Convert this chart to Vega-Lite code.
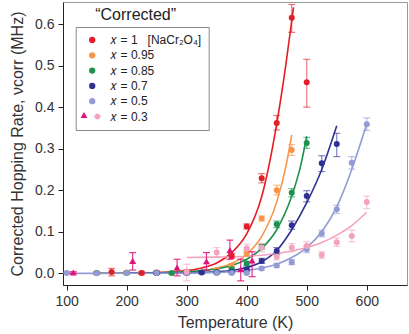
{
  "$schema": "https://vega.github.io/schema/vega-lite/v6.json",
  "autosize": "none",
  "width": 344,
  "height": 283,
  "padding": {"left": 63, "top": 2, "right": 2, "bottom": 49},
  "config": {
    "font": "Liberation Sans",
    "view": {"stroke": "#9a9a9a", "strokeWidth": 1},
    "axis": {"grid": false, "domainColor": "#222", "tickColor": "#222", "labelColor": "#333", "titleColor": "#333", "labelFontSize": 14, "titleFontSize": 16, "titleFontWeight": "normal", "tickSize": 5}
  },
  "datasets": {
    "pts": [
      {"series": "𝑥 = 1  [NaCr₂O₄]", "T": 175, "v": 0.003, "lo": -0.006, "hi": 0.012},
      {"series": "𝑥 = 1  [NaCr₂O₄]", "T": 225, "v": 0.001, "lo": -0.003, "hi": 0.005},
      {"series": "𝑥 = 1  [NaCr₂O₄]", "T": 250, "v": 0.002, "lo": -0.002, "hi": 0.006},
      {"series": "𝑥 = 1  [NaCr₂O₄]", "T": 300, "v": 0.004, "lo": 0.0, "hi": 0.008},
      {"series": "𝑥 = 1  [NaCr₂O₄]", "T": 375, "v": 0.042, "lo": 0.036, "hi": 0.048},
      {"series": "𝑥 = 1  [NaCr₂O₄]", "T": 400, "v": 0.113, "lo": 0.107, "hi": 0.119},
      {"series": "𝑥 = 1  [NaCr₂O₄]", "T": 425, "v": 0.229, "lo": 0.218, "hi": 0.24},
      {"series": "𝑥 = 1  [NaCr₂O₄]", "T": 450, "v": 0.362, "lo": 0.345, "hi": 0.38},
      {"series": "𝑥 = 1  [NaCr₂O₄]", "T": 475, "v": 0.615, "lo": 0.58, "hi": 0.647},
      {"series": "𝑥 = 1  [NaCr₂O₄]", "T": 500, "v": 0.46, "lo": 0.4, "hi": 0.515},
      {"series": "𝑥 = 0.95", "T": 150, "v": 0.001, "lo": -0.002, "hi": 0.004},
      {"series": "𝑥 = 0.95", "T": 200, "v": 0.002, "lo": -0.001, "hi": 0.005},
      {"series": "𝑥 = 0.95", "T": 250, "v": 0.002, "lo": -0.001, "hi": 0.005},
      {"series": "𝑥 = 0.95", "T": 300, "v": 0.004, "lo": 0.001, "hi": 0.007},
      {"series": "𝑥 = 0.95", "T": 350, "v": 0.008, "lo": 0.004, "hi": 0.012},
      {"series": "𝑥 = 0.95", "T": 375, "v": 0.018, "lo": 0.012, "hi": 0.024},
      {"series": "𝑥 = 0.95", "T": 400, "v": 0.048, "lo": 0.041, "hi": 0.055},
      {"series": "𝑥 = 0.95", "T": 425, "v": 0.132, "lo": 0.126, "hi": 0.138},
      {"series": "𝑥 = 0.95", "T": 450, "v": 0.2, "lo": 0.189, "hi": 0.212},
      {"series": "𝑥 = 0.95", "T": 475, "v": 0.297, "lo": 0.284, "hi": 0.31},
      {"series": "𝑥 = 0.85", "T": 150, "v": 0.001, "lo": -0.002, "hi": 0.004},
      {"series": "𝑥 = 0.85", "T": 200, "v": 0.001, "lo": -0.002, "hi": 0.004},
      {"series": "𝑥 = 0.85", "T": 250, "v": 0.001, "lo": -0.002, "hi": 0.004},
      {"series": "𝑥 = 0.85", "T": 275, "v": 0.001, "lo": -0.002, "hi": 0.004},
      {"series": "𝑥 = 0.85", "T": 300, "v": 0.002, "lo": -0.001, "hi": 0.005},
      {"series": "𝑥 = 0.85", "T": 350, "v": 0.004, "lo": 0.001, "hi": 0.007},
      {"series": "𝑥 = 0.85", "T": 375, "v": 0.01, "lo": 0.006, "hi": 0.014},
      {"series": "𝑥 = 0.85", "T": 400, "v": 0.024, "lo": 0.019, "hi": 0.029},
      {"series": "𝑥 = 0.85", "T": 425, "v": 0.064, "lo": 0.058, "hi": 0.07},
      {"series": "𝑥 = 0.85", "T": 450, "v": 0.118, "lo": 0.11, "hi": 0.126},
      {"series": "𝑥 = 0.85", "T": 475, "v": 0.194, "lo": 0.184, "hi": 0.204},
      {"series": "𝑥 = 0.85", "T": 500, "v": 0.314, "lo": 0.301, "hi": 0.327},
      {"series": "𝑥 = 0.7", "T": 250, "v": 0.001, "lo": -0.002, "hi": 0.004},
      {"series": "𝑥 = 0.7", "T": 300, "v": 0.001, "lo": -0.002, "hi": 0.004},
      {"series": "𝑥 = 0.7", "T": 325, "v": 0.002, "lo": -0.001, "hi": 0.005},
      {"series": "𝑥 = 0.7", "T": 350, "v": 0.002, "lo": -0.001, "hi": 0.005},
      {"series": "𝑥 = 0.7", "T": 375, "v": 0.004, "lo": 0.001, "hi": 0.007},
      {"series": "𝑥 = 0.7", "T": 400, "v": 0.01, "lo": 0.005, "hi": 0.015},
      {"series": "𝑥 = 0.7", "T": 425, "v": 0.03, "lo": 0.024, "hi": 0.036},
      {"series": "𝑥 = 0.7", "T": 450, "v": 0.054, "lo": 0.046, "hi": 0.062},
      {"series": "𝑥 = 0.7", "T": 475, "v": 0.116, "lo": 0.106, "hi": 0.126},
      {"series": "𝑥 = 0.7", "T": 500, "v": 0.186, "lo": 0.172, "hi": 0.199},
      {"series": "𝑥 = 0.7", "T": 525, "v": 0.265, "lo": 0.245, "hi": 0.283},
      {"series": "𝑥 = 0.7", "T": 550, "v": 0.311, "lo": 0.281, "hi": 0.337},
      {"series": "𝑥 = 0.5", "T": 100, "v": 0.001, "lo": -0.001, "hi": 0.003},
      {"series": "𝑥 = 0.5", "T": 150, "v": 0.0, "lo": -0.002, "hi": 0.002},
      {"series": "𝑥 = 0.5", "T": 200, "v": 0.001, "lo": -0.001, "hi": 0.003},
      {"series": "𝑥 = 0.5", "T": 250, "v": 0.001, "lo": -0.001, "hi": 0.003},
      {"series": "𝑥 = 0.5", "T": 300, "v": 0.001, "lo": -0.001, "hi": 0.003},
      {"series": "𝑥 = 0.5", "T": 350, "v": 0.001, "lo": -0.001, "hi": 0.003},
      {"series": "𝑥 = 0.5", "T": 375, "v": 0.001, "lo": -0.001, "hi": 0.003},
      {"series": "𝑥 = 0.5", "T": 400, "v": 0.001, "lo": -0.001, "hi": 0.003},
      {"series": "𝑥 = 0.5", "T": 425, "v": 0.012, "lo": 0.008, "hi": 0.016},
      {"series": "𝑥 = 0.5", "T": 450, "v": 0.019, "lo": 0.014, "hi": 0.024},
      {"series": "𝑥 = 0.5", "T": 475, "v": 0.027, "lo": 0.021, "hi": 0.033},
      {"series": "𝑥 = 0.5", "T": 500, "v": 0.058, "lo": 0.05, "hi": 0.066},
      {"series": "𝑥 = 0.5", "T": 525, "v": 0.096, "lo": 0.088, "hi": 0.104},
      {"series": "𝑥 = 0.5", "T": 550, "v": 0.154, "lo": 0.144, "hi": 0.164},
      {"series": "𝑥 = 0.5", "T": 575, "v": 0.266, "lo": 0.251, "hi": 0.281},
      {"series": "𝑥 = 0.5", "T": 600, "v": 0.359, "lo": 0.344, "hi": 0.374},
      {"series": "𝑥 = 0.3", "T": 300, "v": 0.004, "lo": -0.018, "hi": 0.022},
      {"series": "𝑥 = 0.3", "T": 350, "v": 0.05, "lo": 0.038, "hi": 0.062},
      {"series": "𝑥 = 0.3", "T": 400, "v": 0.06, "lo": 0.05, "hi": 0.07},
      {"series": "𝑥 = 0.3", "T": 425, "v": 0.062, "lo": 0.052, "hi": 0.072},
      {"series": "𝑥 = 0.3", "T": 450, "v": 0.04, "lo": 0.032, "hi": 0.048},
      {"series": "𝑥 = 0.3", "T": 475, "v": 0.062, "lo": 0.052, "hi": 0.072},
      {"series": "𝑥 = 0.3", "T": 500, "v": 0.066, "lo": 0.056, "hi": 0.076},
      {"series": "𝑥 = 0.3", "T": 525, "v": 0.044, "lo": 0.036, "hi": 0.052},
      {"series": "𝑥 = 0.3", "T": 550, "v": 0.075, "lo": 0.065, "hi": 0.085},
      {"series": "𝑥 = 0.3", "T": 575, "v": 0.09, "lo": 0.076, "hi": 0.104},
      {"series": "𝑥 = 0.3", "T": 600, "v": 0.172, "lo": 0.156, "hi": 0.186}
    ],
    "tri": [
      {"set": "triangles", "T": 111, "v": 0.002, "lo": 0.0, "hi": 0.004},
      {"set": "triangles", "T": 210, "v": 0.03, "lo": 0.008, "hi": 0.05},
      {"set": "triangles", "T": 284, "v": 0.014, "lo": -0.006, "hi": 0.034},
      {"set": "triangles", "T": 333, "v": 0.029, "lo": 0.008, "hi": 0.05},
      {"set": "triangles", "T": 372, "v": 0.056, "lo": 0.034, "hi": 0.08},
      {"set": "triangles", "T": 390, "v": 0.01, "lo": -0.018, "hi": 0.034},
      {"set": "triangles", "T": 409, "v": 0.031, "lo": -0.008, "hi": 0.052}
    ],
    "fit": [
      {"series": "𝑥 = 1  [NaCr₂O₄]", "T": 150, "v": 0.0001},
      {"series": "𝑥 = 1  [NaCr₂O₄]", "T": 200, "v": 0.0004},
      {"series": "𝑥 = 1  [NaCr₂O₄]", "T": 250, "v": 0.0017},
      {"series": "𝑥 = 1  [NaCr₂O₄]", "T": 300, "v": 0.0065},
      {"series": "𝑥 = 1  [NaCr₂O₄]", "T": 325, "v": 0.013},
      {"series": "𝑥 = 1  [NaCr₂O₄]", "T": 350, "v": 0.025},
      {"series": "𝑥 = 1  [NaCr₂O₄]", "T": 375, "v": 0.05},
      {"series": "𝑥 = 1  [NaCr₂O₄]", "T": 400, "v": 0.095},
      {"series": "𝑥 = 1  [NaCr₂O₄]", "T": 425, "v": 0.185},
      {"series": "𝑥 = 1  [NaCr₂O₄]", "T": 450, "v": 0.36},
      {"series": "𝑥 = 1  [NaCr₂O₄]", "T": 465, "v": 0.5},
      {"series": "𝑥 = 1  [NaCr₂O₄]", "T": 478, "v": 0.64},
      {"series": "𝑥 = 0.95", "T": 150, "v": 0.0001},
      {"series": "𝑥 = 0.95", "T": 200, "v": 0.0003},
      {"series": "𝑥 = 0.95", "T": 250, "v": 0.001},
      {"series": "𝑥 = 0.95", "T": 300, "v": 0.0035},
      {"series": "𝑥 = 0.95", "T": 350, "v": 0.012},
      {"series": "𝑥 = 0.95", "T": 375, "v": 0.024},
      {"series": "𝑥 = 0.95", "T": 400, "v": 0.046},
      {"series": "𝑥 = 0.95", "T": 425, "v": 0.089},
      {"series": "𝑥 = 0.95", "T": 450, "v": 0.172},
      {"series": "𝑥 = 0.95", "T": 465, "v": 0.255},
      {"series": "𝑥 = 0.95", "T": 475, "v": 0.333},
      {"series": "𝑥 = 0.85", "T": 150, "v": 0.0001},
      {"series": "𝑥 = 0.85", "T": 200, "v": 0.0003},
      {"series": "𝑥 = 0.85", "T": 250, "v": 0.001},
      {"series": "𝑥 = 0.85", "T": 300, "v": 0.0035},
      {"series": "𝑥 = 0.85", "T": 350, "v": 0.011},
      {"series": "𝑥 = 0.85", "T": 375, "v": 0.019},
      {"series": "𝑥 = 0.85", "T": 400, "v": 0.034},
      {"series": "𝑥 = 0.85", "T": 425, "v": 0.06},
      {"series": "𝑥 = 0.85", "T": 450, "v": 0.105},
      {"series": "𝑥 = 0.85", "T": 475, "v": 0.186},
      {"series": "𝑥 = 0.85", "T": 490, "v": 0.26},
      {"series": "𝑥 = 0.85", "T": 500, "v": 0.33},
      {"series": "𝑥 = 0.7", "T": 200, "v": 0.0002},
      {"series": "𝑥 = 0.7", "T": 250, "v": 0.0005},
      {"series": "𝑥 = 0.7", "T": 300, "v": 0.0015},
      {"series": "𝑥 = 0.7", "T": 350, "v": 0.004},
      {"series": "𝑥 = 0.7", "T": 375, "v": 0.007},
      {"series": "𝑥 = 0.7", "T": 400, "v": 0.014},
      {"series": "𝑥 = 0.7", "T": 425, "v": 0.028},
      {"series": "𝑥 = 0.7", "T": 450, "v": 0.055},
      {"series": "𝑥 = 0.7", "T": 475, "v": 0.105},
      {"series": "𝑥 = 0.7", "T": 500, "v": 0.17},
      {"series": "𝑥 = 0.7", "T": 525, "v": 0.25},
      {"series": "𝑥 = 0.7", "T": 550, "v": 0.355},
      {"series": "𝑥 = 0.5", "T": 100, "v": 0.0},
      {"series": "𝑥 = 0.5", "T": 200, "v": 0.0001},
      {"series": "𝑥 = 0.5", "T": 300, "v": 0.0005},
      {"series": "𝑥 = 0.5", "T": 350, "v": 0.002},
      {"series": "𝑥 = 0.5", "T": 400, "v": 0.007},
      {"series": "𝑥 = 0.5", "T": 425, "v": 0.013},
      {"series": "𝑥 = 0.5", "T": 450, "v": 0.022},
      {"series": "𝑥 = 0.5", "T": 475, "v": 0.038},
      {"series": "𝑥 = 0.5", "T": 500, "v": 0.062},
      {"series": "𝑥 = 0.5", "T": 525, "v": 0.1},
      {"series": "𝑥 = 0.5", "T": 550, "v": 0.16},
      {"series": "𝑥 = 0.5", "T": 575, "v": 0.25},
      {"series": "𝑥 = 0.5", "T": 600, "v": 0.36},
      {"series": "𝑥 = 0.3", "T": 300, "v": 0.038},
      {"series": "𝑥 = 0.3", "T": 350, "v": 0.039},
      {"series": "𝑥 = 0.3", "T": 400, "v": 0.041},
      {"series": "𝑥 = 0.3", "T": 450, "v": 0.048},
      {"series": "𝑥 = 0.3", "T": 475, "v": 0.054},
      {"series": "𝑥 = 0.3", "T": 500, "v": 0.062},
      {"series": "𝑥 = 0.3", "T": 525, "v": 0.074},
      {"series": "𝑥 = 0.3", "T": 550, "v": 0.092},
      {"series": "𝑥 = 0.3", "T": 575, "v": 0.115},
      {"series": "𝑥 = 0.3", "T": 600, "v": 0.147}
    ],
    "note": [
      {"label": "“Corrected”", "T": 215, "v": 0.61}
    ]
  },
  "encoding": {
    "x": {"field": "T", "type": "quantitative", "scale": {"domain": [94, 667], "nice": false, "zero": false},
      "axis": {"values": [100, 200, 300, 400, 500, 600], "title": "Temperature (K)", "labelPadding": 4, "titlePadding": 6}},
    "y": {"field": "v", "type": "quantitative", "scale": {"domain": [-0.028, 0.653], "nice": false, "zero": false},
      "axis": {"values": [0, 0.1, 0.2, 0.3, 0.4, 0.5, 0.6], "format": ".1f", "title": "Corrected Hopping Rate, νcorr (MHz)", "labelPadding": 4, "titlePadding": 9}}
  },
  "layer": [
    {
      "data": {"name": "fit"},
      "mark": {"type": "point", "filled": true, "opacity": 0},
      "encoding": {
        "color": {"field": "series", "type": "nominal",
          "scale": {"domain": ["𝑥 = 1  [NaCr₂O₄]", "𝑥 = 0.95", "𝑥 = 0.85", "𝑥 = 0.7", "𝑥 = 0.5", "𝑥 = 0.3"],
                    "range": ["#e31e26", "#f7964a", "#1e9150", "#2e3192", "#929bd3", "#f4a3bc"]},
          "legend": {"orient": "none", "legendX": 12.7, "legendY": 25, "title": null, "strokeColor": "#888", "padding": 7, "rowPadding": 3.3, "symbolSize": 40, "symbolOffset": 3.5, "labelOffset": 12, "labelFontSize": 12, "labelColor": "#222", "symbolOpacity": 1, "symbolStrokeWidth": 0, "symbolType": "circle", "labelLimit": 200,
            "labelExpr": "replace(datum.label, '  ', '\u00a0\u00a0 ')",
            "encode": {"symbols": {"update": {"opacity": {"value": 1}, "fillOpacity": {"value": 1}}}}}},
        "shape": {"field": "series", "type": "nominal",
          "scale": {"domain": ["𝑥 = 1  [NaCr₂O₄]", "𝑥 = 0.95", "𝑥 = 0.85", "𝑥 = 0.7", "𝑥 = 0.5", "𝑥 = 0.3"],
                    "range": ["circle", "circle", "circle", "circle", "circle", "M0.7,0 A0.95,0.95 0 1,1 2.6,0 A0.95,0.95 0 1,1 0.7,0 Z"]},
          "legend": {"orient": "none", "legendX": 12.7, "legendY": 25, "title": null, "strokeColor": "#888", "padding": 7, "rowPadding": 3.3, "symbolSize": 40, "symbolOffset": 3.5, "labelOffset": 12, "labelFontSize": 12, "labelColor": "#222", "symbolOpacity": 1, "symbolStrokeWidth": 0, "labelLimit": 200,
            "labelExpr": "replace(datum.label, '  ', '\u00a0\u00a0 ')",
            "encode": {"symbols": {"update": {"opacity": {"value": 1}, "fillOpacity": {"value": 1}}}}}}
      }
    },
    {
      "data": {"name": "fit"},
      "mark": {"type": "line", "interpolate": "monotone", "strokeWidth": 1.6, "clip": true},
      "encoding": {
        "color": {"field": "series", "type": "nominal"},
        "detail": {"field": "series"}
      }
    },
    {
      "data": {"name": "pts"},
      "mark": {"type": "errorbar", "ticks": {"size": 7, "thickness": 1.2}, "rule": {"strokeWidth": 1.2}, "opacity": 0.6},
      "encoding": {
        "y": {"field": "lo", "type": "quantitative"},
        "y2": {"field": "hi"},
        "color": {"field": "series", "type": "nominal"}
      }
    },
    {
      "data": {"name": "pts"},
      "mark": {"type": "point", "filled": true, "size": 36, "opacity": 1},
      "encoding": {
        "color": {"field": "series", "type": "nominal"}
      }
    },
    {
      "data": {"name": "tri"},
      "mark": {"type": "errorbar", "ticks": {"size": 7, "thickness": 1.2}, "rule": {"strokeWidth": 1.2}, "color": "#e0147a", "opacity": 0.85},
      "encoding": {
        "y": {"field": "lo", "type": "quantitative"},
        "y2": {"field": "hi"}
      }
    },
    {
      "data": {"name": "tri"},
      "mark": {"type": "point", "filled": true, "shape": "triangle-up", "size": 50, "opacity": 1},
      "encoding": {
        "fill": {"field": "set", "type": "nominal", "scale": {"range": ["#e0147a"]},
          "legend": {"orient": "none", "legendX": 16, "legendY": 108, "title": null, "labelExpr": "''", "symbolType": "triangle-up", "symbolSize": 45, "padding": 0, "symbolOpacity": 1, "symbolStrokeWidth": 0}}
      }
    },
    {
      "data": {"name": "note"},
      "mark": {"type": "text", "align": "center", "baseline": "alphabetic", "fontSize": 16, "color": "#222"},
      "encoding": {
        "text": {"field": "label"}
      }
    }
  ]
}
